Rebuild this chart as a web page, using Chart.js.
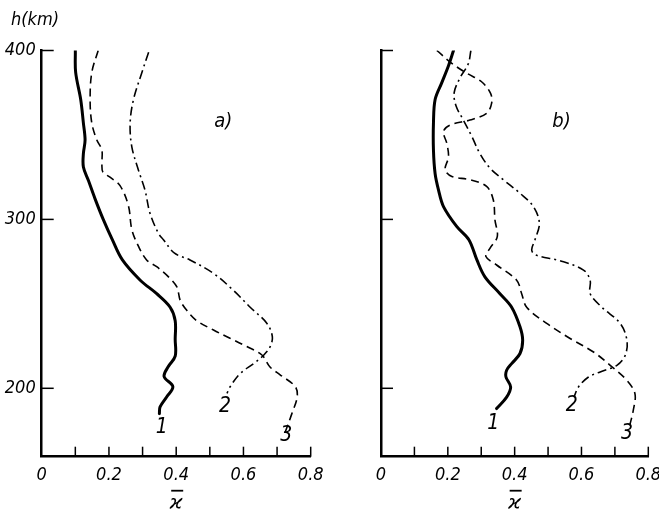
<!DOCTYPE html>
<html><head><meta charset="utf-8">
<script src="https://cdn.jsdelivr.net/npm/chart.js@4.4.0/dist/chart.umd.min.js"></script>
<style>
html,body{margin:0;padding:0;background:#fff;}
#wrap{position:relative;width:659px;height:512px;background:#fff;}
.pane{position:absolute;top:0;height:512px;}
#pa{left:0;width:329px;} #pb{left:329px;width:330px;}
</style></head><body>
<div id="wrap"><div class="pane" id="pa"><canvas id="ca"></canvas></div><div class="pane" id="pb"><canvas id="cb"></canvas></div></div>
<script>
// ---- axis ticks ----
const xLabelTicks = [0, 0.2, 0.4, 0.6, 0.8];
const xMinorTicks = [0.1, 0.2, 0.3, 0.4, 0.5, 0.6, 0.7, 0.8];
const yTicks = [200, 300, 400];
const yMin = 159.5, yMax = 400, xMin = 0, xMax = 0.8;

// ---- panel a) ----
const a1H = [400, 387, 371, 357, 347, 339, 331, 323, 312, 300, 288, 276, 264, 256, 248, 240, 229, 219, 213, 207, 201, 195, 189, 185];
const a1K = [0.100, 0.101, 0.116, 0.124, 0.129, 0.124, 0.124, 0.139, 0.159, 0.183, 0.210, 0.240, 0.293, 0.342, 0.382, 0.397, 0.397, 0.397, 0.377, 0.364, 0.390, 0.372, 0.352, 0.350];
const a2H = [399, 387, 371, 357, 343, 329, 317.5, 303.7, 291.8, 288, 280, 276, 268, 258, 248, 238.4, 230.4, 224.5, 219.6, 214.6, 208.7, 200.8, 197];
const a2K = [0.318, 0.298, 0.273, 0.263, 0.268, 0.288, 0.307, 0.322, 0.347, 0.362, 0.395, 0.441, 0.511, 0.570, 0.620, 0.670, 0.686, 0.679, 0.660, 0.630, 0.590, 0.560, 0.551];
const a3H = [400, 387, 371, 357, 347, 341, 333, 328, 325, 320, 308, 294, 284, 276, 272, 266, 260, 252, 246, 240, 234.5, 229.6, 224.7, 219.7, 212.6, 208, 201, 195, 185, 174];
const a3K = [0.168, 0.149, 0.144, 0.149, 0.164, 0.179, 0.179, 0.182, 0.203, 0.233, 0.258, 0.268, 0.288, 0.312, 0.342, 0.377, 0.402, 0.412, 0.432, 0.461, 0.511, 0.560, 0.610, 0.655, 0.679, 0.709, 0.754, 0.760, 0.744, 0.724];

// ---- panel b) ----
const b1H = [400, 391, 381, 371, 357, 341, 327, 317.5, 307.6, 295.7, 288, 276, 266, 256, 248, 236.4, 228.5, 220.6, 214.6, 210.7, 206.7, 200.8, 194.8, 188];
const b1K = [0.217, 0.202, 0.182, 0.162, 0.157, 0.157, 0.162, 0.172, 0.187, 0.227, 0.263, 0.287, 0.311, 0.356, 0.391, 0.416, 0.424, 0.416, 0.391, 0.376, 0.374, 0.388, 0.376, 0.346];
const b2H = [400, 392, 384, 375, 367, 359, 349, 339, 330.4, 323.5, 315.5, 307.6, 297.7, 288, 282, 279, 275.5, 270, 264, 256, 248, 238.4, 228.5, 219.6, 213.6, 209.7, 206.7, 200.8, 195];
const b2K = [0.269, 0.261, 0.237, 0.219, 0.225, 0.246, 0.272, 0.296, 0.326, 0.366, 0.416, 0.456, 0.474, 0.461, 0.451, 0.462, 0.536, 0.606, 0.626, 0.626, 0.661, 0.716, 0.736, 0.731, 0.706, 0.656, 0.621, 0.591, 0.578];
const b3H = [400, 392.4, 386.5, 381.5, 374.6, 368.7, 362.8, 358.8, 355.9, 352, 345, 337, 329.4, 325.4, 323.5, 319.5, 311.6, 299.7, 289.8, 282.9, 278, 273, 264, 256, 248, 238.4, 229.5, 221.5, 213.6, 204.7, 196.8, 186.9, 177];
const b3K = [0.167, 0.212, 0.257, 0.301, 0.328, 0.331, 0.316, 0.266, 0.207, 0.187, 0.197, 0.202, 0.192, 0.212, 0.266, 0.316, 0.336, 0.341, 0.348, 0.326, 0.314, 0.346, 0.406, 0.421, 0.436, 0.496, 0.566, 0.636, 0.686, 0.736, 0.760, 0.755, 0.743];

// curve label anchors (kappa, h)
const aLabels = [{t:'1', k:0.357, h:177}, {t:'2', k:0.545, h:189}, {t:'3', k:0.727, h:172}];
const bLabels = [{t:'1', k:0.336, h:179}, {t:'2', k:0.571, h:190}, {t:'3', k:0.736, h:173}];

const FONT = '"DejaVu Sans Condensed", "Liberation Sans", sans-serif';
const pts = (K, H) => K.map((k, i) => ({x: k, y: H[i]}));

function mkDatasets(k1, h1, k2, h2, k3, h3) {
  const base = {borderColor: '#000', pointRadius: 0, fill: false, tension: 0.35};
  return [
    Object.assign({}, base, {data: pts(k1, h1), borderWidth: 3, borderCapStyle: 'round', borderJoinStyle: 'round'}),
    Object.assign({}, base, {data: pts(k2, h2), borderWidth: 1.6, borderDash: [9, 4, 2, 4]}),
    Object.assign({}, base, {data: pts(k3, h3), borderWidth: 1.6, borderDash: [8, 5]})
  ];
}

const deco = {
  id: 'deco',
  afterDraw(chart, args, o) {
    const ctx = chart.ctx, xs = chart.scales.x, ys = chart.scales.y, ca = chart.chartArea;
    ctx.save();
    ctx.strokeStyle = '#000'; ctx.fillStyle = '#000'; ctx.lineWidth = 1.5;
    // inner ticks
    yTicks.forEach(v => { const y = ys.getPixelForValue(v); ctx.beginPath(); ctx.moveTo(ca.left, y); ctx.lineTo(ca.left + 12, y); ctx.stroke(); });
    xMinorTicks.forEach(v => { const x = xs.getPixelForValue(v); ctx.beginPath(); ctx.moveTo(x, ca.bottom); ctx.lineTo(x, ca.bottom - 10); ctx.stroke(); });
    // curve labels
    ctx.font = 'italic 21px ' + FONT; ctx.textAlign = 'center'; ctx.textBaseline = 'middle';
    o.labels.forEach(l => ctx.fillText(l.t, xs.getPixelForValue(l.k), ys.getPixelForValue(l.h)));
    // panel tag
    ctx.font = 'italic 20px ' + FONT;
    ctx.fillText(o.tag, xs.getPixelForValue(0.54), ys.getPixelForValue(358));
    // x title: kappa with bar
    const cx = xs.getPixelForValue(0.4);
    ctx.font = 'italic 20px "DejaVu Sans", sans-serif';
    ctx.fillText('ϰ', cx, ca.bottom + 46);
    ctx.lineWidth = 1.8; ctx.beginPath(); ctx.moveTo(cx - 5, ca.bottom + 34); ctx.lineTo(cx + 7, ca.bottom + 34); ctx.stroke();
    // y title
    if (o.yTitle) {
      ctx.font = 'italic 18px ' + FONT; ctx.textAlign = 'left';
      ctx.fillText(o.yTitle, 11, ca.top - 30);
    }
    ctx.restore();
  }
};

function mkChart(id, datasets, showY, yWidth, padRight, labels, tag, yTitle) {
  return new Chart(document.getElementById(id), {
    type: 'line',
    data: {datasets},
    options: {
      responsive: true, maintainAspectRatio: false, animation: false,
      layout: {padding: {top: 50.5, right: padRight, bottom: 0, left: 0}},
      plugins: {legend: {display: false}, tooltip: {enabled: false}, deco: {labels, tag, yTitle}},
      scales: {
        x: {
          type: 'linear', min: xMin, max: xMax,
          grid: {display: false, drawTicks: false},
          border: {display: true, color: '#000', width: 2.5},
          afterBuildTicks: s => { s.ticks = xLabelTicks.map(v => ({value: v})); },
          ticks: {color: '#000', padding: 8, maxRotation: 0, autoSkip: false, font: {family: FONT, size: 18, style: 'italic'},
                  callback: v => (v === 0 ? '0' : String(Math.round(v * 10) / 10))},
          afterFit: s => { s.height = 55.3; s.paddingLeft = 0; s.paddingRight = 0; }
        },
        y: {
          type: 'linear', min: yMin, max: yMax,
          grid: {display: false, drawTicks: false},
          border: {display: true, color: '#000', width: 2.5},
          afterBuildTicks: s => { s.ticks = yTicks.map(v => ({value: v})); },
          ticks: {display: showY, color: '#000', padding: 6, font: {family: FONT, size: 18, style: 'italic'}},
          afterFit: s => { s.width = yWidth; s.paddingTop = 0; s.paddingBottom = 0; }
        }
      }
    },
    plugins: [deco]
  });
}

mkChart('ca', mkDatasets(a1K, a1H, a2K, a2H, a3K, a3H), true, 41.7, 18.3, aLabels, 'a)', 'h(km)');
mkChart('cb', mkDatasets(b1K, b1H, b2K, b2H, b3K, b3H), false, 52, 10.7, bLabels, 'b)', null);
</script>
</body></html>
